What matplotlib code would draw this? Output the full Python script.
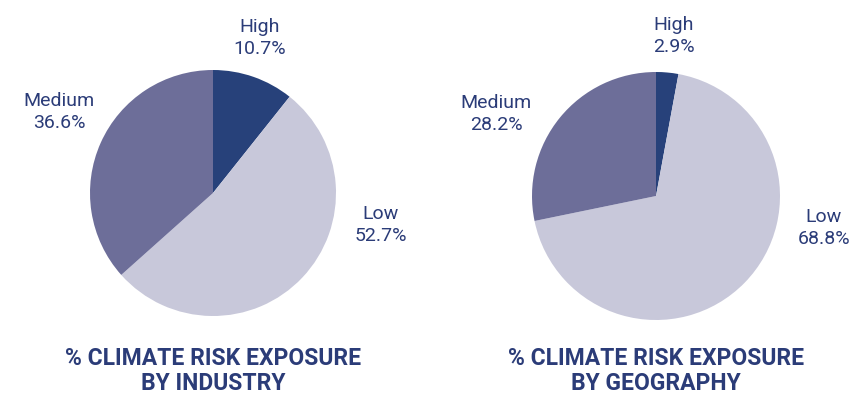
import matplotlib
matplotlib.use("Agg")
import matplotlib.pyplot as plt

categories = ["High", "Low", "Medium"]
industry = [10.7, 52.7, 36.6]
geography = [2.9, 68.8, 28.2]
titles = ["% CLIMATE RISK EXPOSURE\nBY INDUSTRY", "% CLIMATE RISK EXPOSURE\nBY GEOGRAPHY"]

colors = ["#27417a", "#c8c8da", "#6d6e99"]
text_color = "#2b3c78"

W, H = 853, 394
fig = plt.figure(figsize=(W / 100, H / 100), dpi=100)
fig.patch.set_facecolor("white")


def px_axes(cx, cy, r):
    # axes box in pixel coords (origin top-left) around a pie of radius r
    return fig.add_axes([(cx - r) / W, (H - cy - r) / H, 2 * r / W, 2 * r / H])


def px_text(x, y, s, **kw):
    fig.text(x / W, 1 - y / H, s, ha="center", va="center", color=text_color, **kw)


pies = [
    # center x, center y, radius, label positions (High, Low, Medium)
    (213, 193, 123, [(260, 38), (381, 225), (59, 112)]),
    (656, 196, 124, [(674, 36), (824, 228), (496, 114)]),
]

for (cx, cy, r, label_pos), values, title in zip(pies, [industry, geography], titles):
    ax = px_axes(cx, cy, r)
    ax.pie(values, colors=colors, startangle=90, counterclock=False,
           radius=1, wedgeprops=dict(linewidth=0))
    ax.set_xlim(-1, 1)
    ax.set_ylim(-1, 1)
    ax.set_aspect("auto")
    ax.axis("off")
    for name, val, (lx, ly) in zip(categories, values, label_pos):
        px_text(lx, ly, f"{name}\n{val:.1f}%", fontsize=14, family="Roboto",
                fontweight="normal", linespacing=1.3)
    px_text(cx, 371, title, fontsize=16.5, family="Roboto", fontweight="bold",
            linespacing=1.1)

fig.savefig("out.png", dpi=100)
